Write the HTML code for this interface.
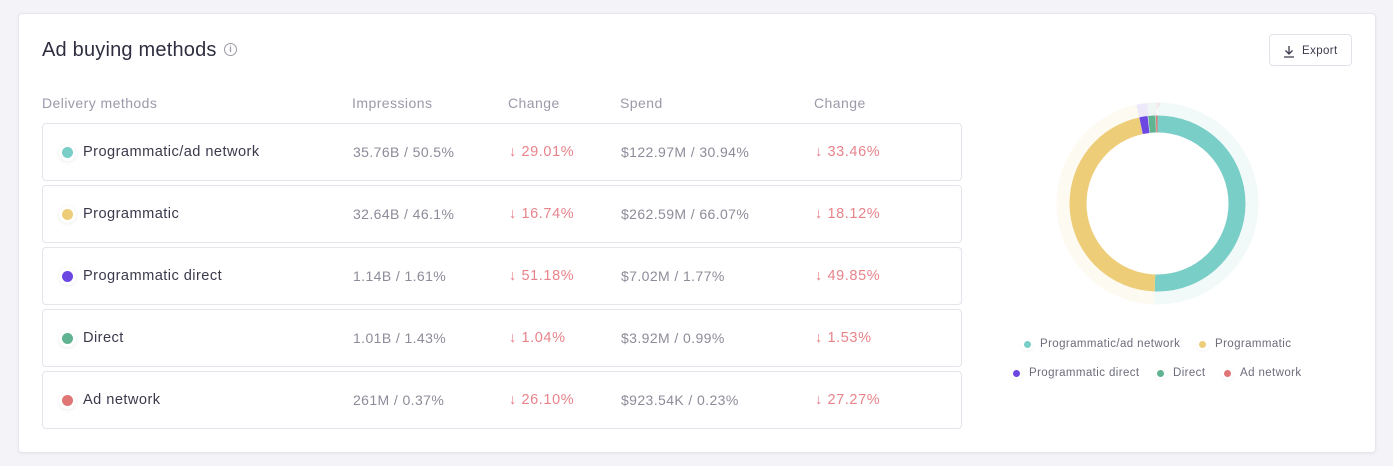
<!DOCTYPE html>
<html><head><meta charset="utf-8"><style>
*{margin:0;padding:0;box-sizing:border-box}
body{width:1393px;height:466px;background:#f4f4f8;font-family:"Liberation Sans",sans-serif;position:relative;overflow:hidden}
.card{position:absolute;left:18px;top:13px;width:1358px;height:440px;background:#fff;border:1px solid #e6e6ee;border-radius:4px;box-shadow:0 1px 3px rgba(0,0,0,0.05)}
.abs{position:absolute;white-space:nowrap}
.title{left:42px;top:37px;font-size:20px;color:#2e2e40;line-height:26px;letter-spacing:0.2px}
.info{left:224px;top:43px;width:13px;height:13px;border:1.3px solid #9a9aa6;border-radius:50%;font-size:9px;color:#9a9aa6;text-align:center;line-height:11px;font-weight:bold}
.hdr{top:95px;font-size:14px;color:#9a9aaa;line-height:16px;letter-spacing:0.45px}
.row{position:absolute;left:42px;width:920px;height:58px;border:1px solid #e4e4ec;border-radius:4px}
.dot{position:absolute;left:19px;top:23px;width:11px;height:11px;border-radius:50%;box-shadow:0 0 0 3px #fff,0 1px 4px 3px rgba(0,0,0,0.08)}
.name{position:absolute;left:40px;top:19px;font-size:14.6px;color:#3a3a4c;line-height:18px;letter-spacing:0.45px}
.val{position:absolute;top:19px;font-size:14px;color:#8c8c9a;line-height:18px;letter-spacing:0.4px}
.chg{position:absolute;top:19px;font-size:14.5px;color:#e8838b;line-height:18px;letter-spacing:0.6px}
.btn{left:1269px;top:34px;width:83px;height:32px;border:1px solid #e2e2ea;border-radius:4px;font-size:11.5px;color:#3a3a4c}
.leg{font-size:11.5px;color:#6c6c7c;line-height:14px;letter-spacing:0.4px}
.ld{position:absolute;width:7px;height:7px;border-radius:50%;box-shadow:0 0 0 2.5px #fff,0 1px 3px 2px rgba(0,0,0,0.07)}
</style></head><body>
<div class="card"></div>
<div class="abs title">Ad buying methods</div>
<div class="abs info">i</div>
<div class="abs btn"><svg style="position:absolute;left:13px;top:10px" width="12" height="13" viewBox="0 0 12 13"><path d="M6 1v8M2.5 5.5L6 9l3.5-3.5M1 12h10" stroke="#3a3a4c" stroke-width="1.3" fill="none"/></svg><span style="position:absolute;left:32px;top:10px;letter-spacing:0.4px">Export</span></div>

<div class="abs hdr" style="left:42px">Delivery methods</div>
<div class="abs hdr" style="left:352px">Impressions</div>
<div class="abs hdr" style="left:508px">Change</div>
<div class="abs hdr" style="left:620px">Spend</div>
<div class="abs hdr" style="left:814px">Change</div>

<div class="row" style="top:123px"><div class="dot" style="background:#79cec8"></div><div class="name">Programmatic/ad network</div><div class="val" style="left:310px">35.76B / 50.5%</div><div class="chg" style="left:466px">↓ 29.01%</div><div class="val" style="left:578px">$122.97M / 30.94%</div><div class="chg" style="left:772px">↓ 33.46%</div></div>
<div class="row" style="top:185px"><div class="dot" style="background:#edcd78"></div><div class="name">Programmatic</div><div class="val" style="left:310px">32.64B / 46.1%</div><div class="chg" style="left:466px">↓ 16.74%</div><div class="val" style="left:578px">$262.59M / 66.07%</div><div class="chg" style="left:772px">↓ 18.12%</div></div>
<div class="row" style="top:247px"><div class="dot" style="background:#6c47e2"></div><div class="name">Programmatic direct</div><div class="val" style="left:310px">1.14B / 1.61%</div><div class="chg" style="left:466px">↓ 51.18%</div><div class="val" style="left:578px">$7.02M / 1.77%</div><div class="chg" style="left:772px">↓ 49.85%</div></div>
<div class="row" style="top:309px"><div class="dot" style="background:#5fb391"></div><div class="name">Direct</div><div class="val" style="left:310px">1.01B / 1.43%</div><div class="chg" style="left:466px">↓ 1.04%</div><div class="val" style="left:578px">$3.92M / 0.99%</div><div class="chg" style="left:772px">↓ 1.53%</div></div>
<div class="row" style="top:371px"><div class="dot" style="background:#e07575"></div><div class="name">Ad network</div><div class="val" style="left:310px">261M / 0.37%</div><div class="chg" style="left:466px">↓ 26.10%</div><div class="val" style="left:578px">$923.54K / 0.23%</div><div class="chg" style="left:772px">↓ 27.27%</div></div>

<svg class="abs" style="left:1047px;top:93px" width="221" height="221" viewBox="0 0 221 221">
<g transform="translate(110.5,110.5) rotate(-90)" fill="none">
<circle r="94.5" stroke="#79cec8" stroke-opacity="0.1" stroke-width="13" stroke-dasharray="300 293.76" stroke-dashoffset="0"/>
<circle r="94.5" stroke="#edcd78" stroke-opacity="0.1" stroke-width="13" stroke-dasharray="273.6 320.16" stroke-dashoffset="-300"/>
<circle r="94.5" stroke="#6c47e2" stroke-opacity="0.12" stroke-width="13" stroke-dasharray="10 583.76" stroke-dashoffset="-573.6"/>
<circle r="94.5" stroke="#5fb391" stroke-opacity="0.1" stroke-width="13" stroke-dasharray="8.5 585.26" stroke-dashoffset="-583.6"/>
<circle r="94.5" stroke="#e07575" stroke-opacity="0.12" stroke-width="13" stroke-dasharray="1.66 592.1" stroke-dashoffset="-592.1"/>
<circle r="79.5" stroke="#79cec8" stroke-width="17" stroke-dasharray="252.25 247.25" stroke-dashoffset="0"/>
<circle r="79.5" stroke="#edcd78" stroke-width="17" stroke-dasharray="230.27 269.23" stroke-dashoffset="-252.25"/>
<circle r="79.5" stroke="#6c47e2" stroke-width="17" stroke-dasharray="7.6 491.9" stroke-dashoffset="-482.7"/>
<circle r="79.5" stroke="#5fb391" stroke-width="17" stroke-dasharray="6.7 492.8" stroke-dashoffset="-490.8"/>
<circle r="79.5" stroke="#e07575" stroke-width="17" stroke-dasharray="1.6 497.9" stroke-dashoffset="-497.9"/>
</g>
</svg>

<div class="ld" style="left:1024px;top:341px;background:#79cec8"></div>
<div class="abs leg" style="left:1040px;top:337px">Programmatic/ad network</div>
<div class="ld" style="left:1199px;top:341px;background:#edcd78"></div>
<div class="abs leg" style="left:1215px;top:337px">Programmatic</div>
<div class="ld" style="left:1013px;top:370px;background:#6c47e2"></div>
<div class="abs leg" style="left:1029px;top:366px">Programmatic direct</div>
<div class="ld" style="left:1157px;top:370px;background:#5fb391"></div>
<div class="abs leg" style="left:1173px;top:366px">Direct</div>
<div class="ld" style="left:1224px;top:370px;background:#e07575"></div>
<div class="abs leg" style="left:1240px;top:366px">Ad network</div>
</body></html>
